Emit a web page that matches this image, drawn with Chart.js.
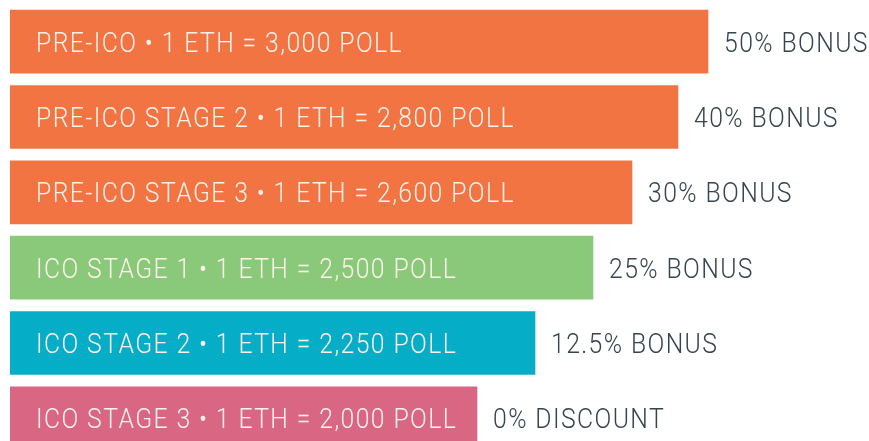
<!DOCTYPE html>
<html>
<head>
<meta charset="utf-8">
<script src="https://cdn.jsdelivr.net/npm/chart.js@4"></script>
<style>
    html, body { margin: 0; padding: 0; background: #ffffff; overflow: hidden; }
    #wrap { position: absolute; left: 0; top: 0; width: 869px; height: 441px; overflow: hidden; }
</style>
</head>
<body>
<div id="wrap"><canvas id="icoChart" width="869" height="460"></canvas></div>
<script>
// ============================================================================
// ICO STAGES BAR CHART
// ============================================================================

const stageLabels = [
    'PRE-ICO \u2022 1 ETH = 3,000 POLL',
    'PRE-ICO STAGE 2 \u2022 1 ETH = 2,800 POLL',
    'PRE-ICO STAGE 3 \u2022 1 ETH = 2,600 POLL',
    'ICO STAGE 1 \u2022 1 ETH = 2,500 POLL',
    'ICO STAGE 2 \u2022 1 ETH = 2,250 POLL',
    'ICO STAGE 3 \u2022 1 ETH = 2,000 POLL'
];
// relative bar lengths
const barLengths = [698, 668, 622, 583, 525, 467];
const bonusLabels = ['50% BONUS', '40% BONUS', '30% BONUS', '25% BONUS', '12.5% BONUS', '0% DISCOUNT'];
const barColors = ['#f27442', '#f27442', '#f27442', '#8ac97a', '#06adc6', '#d96784'];

const FONT = '300 28px Roboto, "DejaVu Sans", sans-serif';
const SPACING = '1.6px';
const FIRST_LABEL_WIDTH = 367; // the original lettering is condensed

// draws the stage text inside each bar and the bonus text after it
const barTextPlugin = {
    id: 'barText',
    afterDatasetsDraw(chart) {
        const ctx = chart.ctx;
        const meta = chart.getDatasetMeta(0);
        ctx.save();
        ctx.font = FONT;
        if ('letterSpacing' in ctx) ctx.letterSpacing = SPACING;
        ctx.textBaseline = 'alphabetic';
        ctx.textAlign = 'left';
        const sx = FIRST_LABEL_WIDTH / ctx.measureText(stageLabels[0]).width;

        const drawText = (text, x, y, color) => {
            ctx.save();
            ctx.translate(x, y);
            ctx.scale(sx, 1);
            ctx.fillStyle = color;
            ctx.fillText(text, 0, 0);
            ctx.restore();
        };

        meta.data.forEach((bar, i) => {
            const baseline = bar.y + 10;
            drawText(stageLabels[i], bar.base + 26, baseline, '#fdf3ec');
            drawText(bonusLabels[i], bar.x + 16, baseline, '#36444d');
        });
        ctx.restore();
    }
};

const ctx = document.getElementById('icoChart').getContext('2d');

const chart = new Chart(ctx, {
    type: 'bar',
    data: {
        labels: stageLabels,
        datasets: [{
            data: barLengths,
            backgroundColor: barColors,
            borderWidth: 0,
            barThickness: 63
        }]
    },
    options: {
        indexAxis: 'y',
        responsive: false,
        animation: false,
        devicePixelRatio: 1,
        layout: {
            padding: { left: 10, right: 0, top: 4, bottom: 4 }
        },
        plugins: {
            legend: { display: false },
            tooltip: { enabled: false }
        },
        scales: {
            x: { display: false, min: 0, max: 859 },
            y: { display: false }
        }
    },
    plugins: [barTextPlugin]
});
</script>
</body>
</html>
